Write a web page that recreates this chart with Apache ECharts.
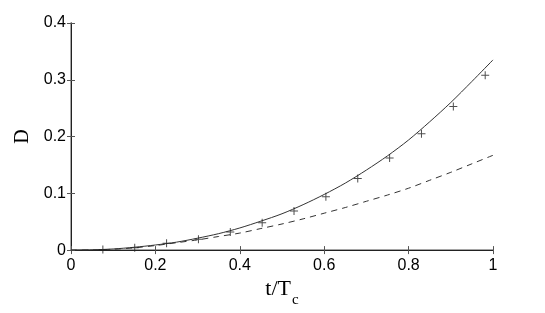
<!DOCTYPE html>
<html>
<head>
<meta charset="utf-8">
<script src="https://cdn.jsdelivr.net/npm/echarts@6/dist/echarts.min.js"></script>
<style>html,body{margin:0;padding:0;background:#fff}#c{width:545px;height:313px}</style>
</head>
<body>
<div id="c"></div>
<script>
var xTicks = [0, 0.2, 0.4, 0.6, 0.8, 1];
var yTicks = [0, 0.1, 0.2, 0.3, 0.4];
var curveT = [0, 0.05, 0.1, 0.15, 0.2, 0.25, 0.3, 0.35, 0.4, 0.45, 0.5, 0.55, 0.6, 0.65, 0.7, 0.75, 0.8, 0.85, 0.9, 0.95, 1.0];
var solidD = [0, 0.0005, 0.002, 0.005, 0.009, 0.014, 0.021, 0.029, 0.039, 0.051, 0.064, 0.080, 0.098, 0.118, 0.141, 0.166, 0.194, 0.226, 0.260, 0.297, 0.335];
var dashedD = [0, 0.0003, 0.0015, 0.004, 0.008, 0.013, 0.018, 0.024, 0.030, 0.038, 0.046, 0.055, 0.065, 0.075, 0.086, 0.097, 0.109, 0.123, 0.137, 0.152, 0.167];
var markT = [0.0755, 0.151, 0.2265, 0.302, 0.3775, 0.453, 0.5285, 0.604, 0.6795, 0.755, 0.8305, 0.906, 0.9815];
var markD = [0.001, 0.004, 0.012, 0.019, 0.032, 0.048, 0.069, 0.094, 0.126, 0.162, 0.205, 0.253, 0.308];

function pairs(xs, ys) { return xs.map(function (x, i) { return [x, ys[i]]; }); }

var chart = echarts.init(document.getElementById('c'), null, {renderer: 'canvas'});
var tickFont = {color: '#000', fontFamily: 'Liberation Sans, Arial, sans-serif', fontSize: 16};
chart.setOption({
  animation: false,
  backgroundColor: '#fff',
  grid: {left: 71, right: 52, top: 23, bottom: 56, containLabel: false},
  xAxis: [{
    type: 'value', min: 0, max: 1, interval: 0.2, position: 'bottom',
    axisLine: {show: true, lineStyle: {color: '#888', width: 1.5}},
    axisTick: {show: true, inside: true, length: 4, lineStyle: {color: '#555'}},
    splitLine: {show: false},
    axisLabel: Object.assign({margin: 7, formatter: function (v) { return String(+v.toFixed(1)); }}, tickFont),
    name: '{a|t/T}{b|c}', nameLocation: 'middle', nameGap: 15,
    nameTextStyle: {rich: {
      a: {fontFamily: 'Liberation Serif, Times New Roman, serif', fontSize: 22, color: '#000', verticalAlign: 'bottom', lineHeight: 22},
      b: {fontFamily: 'Liberation Serif, Times New Roman, serif', fontSize: 15, color: '#000', verticalAlign: 'bottom', lineHeight: 22, padding: [0, 0, -8, 1]}
    }}
  }, {
    type: 'value', min: 0, max: 1, interval: 0.2, position: 'top',
    axisLine: {show: true, lineStyle: {color: '#222', width: 1}},
    axisTick: {show: true, inside: true, length: 4, lineStyle: {color: '#555'}},
    axisLabel: {show: false}, splitLine: {show: false}
  }],
  yAxis: [{
    type: 'value', min: 0, max: 0.4, interval: 0.1, position: 'left',
    axisLine: {show: true, lineStyle: {color: '#888', width: 1.5}},
    axisTick: {show: true, inside: true, length: 4, lineStyle: {color: '#555'}},
    splitLine: {show: false},
    axisLabel: Object.assign({margin: 5, formatter: function (v) { return String(+v.toFixed(1)); }}, tickFont),
    name: 'D', nameLocation: 'middle', nameGap: 31, nameRotate: 90,
    nameTextStyle: {fontFamily: 'Liberation Serif, Times New Roman, serif', fontSize: 20, color: '#000'}
  }, {
    type: 'value', min: 0, max: 0.4, interval: 0.1, position: 'right',
    axisLine: {show: true, lineStyle: {color: '#222', width: 1}},
    axisTick: {show: true, inside: true, length: 4, lineStyle: {color: '#555'}},
    axisLabel: {show: false}, splitLine: {show: false}
  }],
  series: [{
    type: 'line', data: pairs(curveT, solidD), smooth: 0.3, showSymbol: false, symbol: 'none',
    lineStyle: {color: '#333', width: 1}, z: 3
  }, {
    type: 'line', data: pairs(curveT, dashedD), smooth: 0.3, showSymbol: false, symbol: 'none',
    lineStyle: {color: '#333', width: 1, type: [6, 5]}, z: 3
  }, {
    type: 'scatter', data: pairs(markT, markD), symbolSize: 8,
    symbol: 'path://M-0.125,-1 h0.25 v2 h-0.25 z M-1,-0.125 h2 v0.25 h-2 z',
    itemStyle: {color: '#222'}, z: 4
  }]
});
</script>
</body>
</html>
